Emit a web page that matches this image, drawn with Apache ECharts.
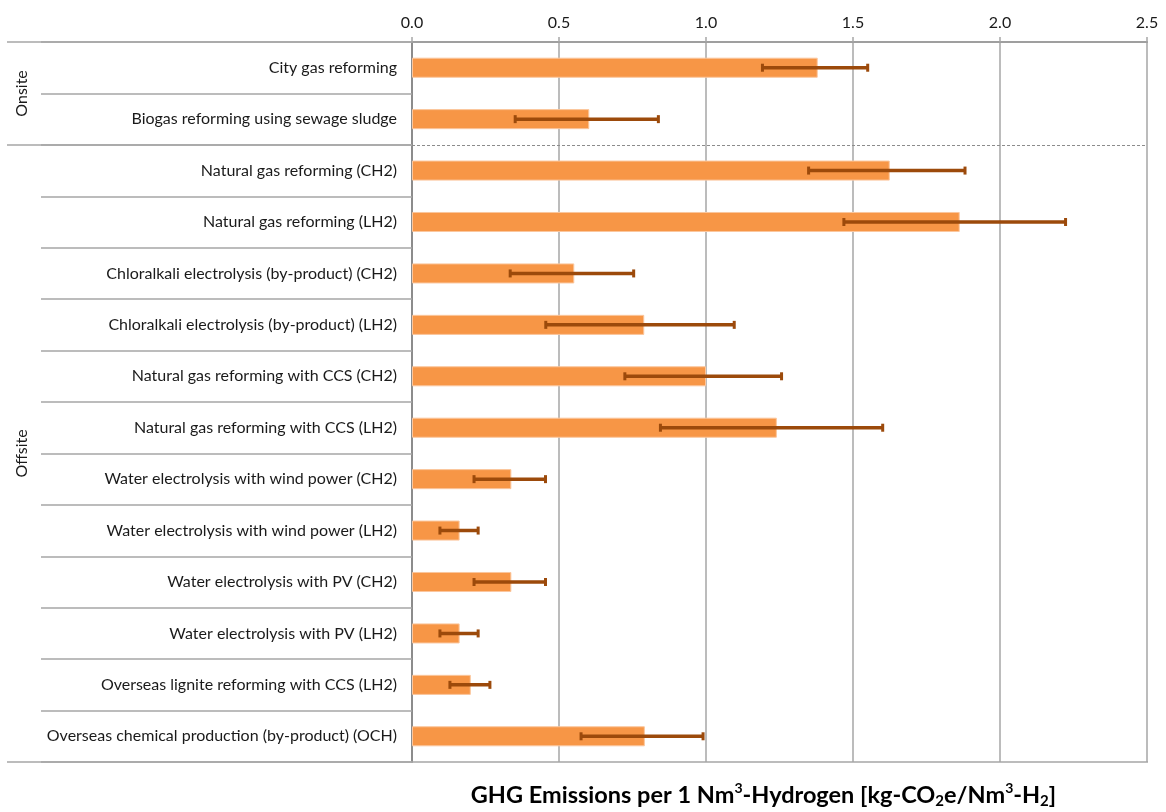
<!DOCTYPE html>
<html>
<head>
<meta charset="utf-8">
<script src="https://cdn.jsdelivr.net/npm/echarts@6/dist/echarts.min.js"></script>
<style>
html,body{margin:0;padding:0;background:#fff;}
#chart{width:1166px;height:812px;}
</style>
</head>
<body>
<div id="chart"></div>
<script>
const categories = [
  "City gas reforming",
  "Biogas reforming using sewage sludge",
  "Natural gas reforming (CH2)",
  "Natural gas reforming (LH2)",
  "Chloralkali electrolysis (by-product) (CH2)",
  "Chloralkali electrolysis (by-product) (LH2)",
  "Natural gas reforming with CCS (CH2)",
  "Natural gas reforming with CCS (LH2)",
  "Water electrolysis with wind power (CH2)",
  "Water electrolysis with wind power (LH2)",
  "Water electrolysis with PV (CH2)",
  "Water electrolysis with PV (LH2)",
  "Overseas lignite reforming with CCS (LH2)",
  "Overseas chemical production (by-product) (OCH)"
];
const values = [1.38, 0.603, 1.625, 1.863, 0.552, 0.79, 1.0, 1.241, 0.338, 0.162, 0.338, 0.162, 0.2, 0.792];
const errLow = [1.192, 0.351, 1.349, 1.469, 0.334, 0.455, 0.724, 0.845, 0.211, 0.095, 0.211, 0.095, 0.129, 0.575];
const errHigh = [1.55, 0.838, 1.881, 2.223, 0.754, 1.096, 1.257, 1.601, 0.454, 0.225, 0.454, 0.225, 0.265, 0.99];
const xTicks = [0, 0.5, 1.0, 1.5, 2.0, 2.5];
const groups = [
  {name: "Onsite", first: 0, last: 1},
  {name: "Offsite", first: 2, last: 13}
];

const FONT = "Lato";
const chart = echarts.init(document.getElementById('chart'));
const errData = categories.map((c, i) => [i, errLow[i], errHigh[i]]);

chart.setOption({
  animation: false,
  textStyle: {fontFamily: FONT},
  grid: {left: 412, right: 19, top: 42, bottom: 50, containLabel: false},
  xAxis: {
    type: 'value', position: 'top',
    min: xTicks[0], max: xTicks[xTicks.length - 1], interval: 0.5,
    axisLabel: {formatter: v => v.toFixed(1), color: '#1a1a1a', fontSize: 16, fontFamily: FONT, margin: 11},
    axisLine: {show: true, lineStyle: {color: '#8c8c8c', width: 2}},
    axisTick: {show: true, length: 5, lineStyle: {color: '#a6a6a6', width: 1.5}},
    splitLine: {show: true, lineStyle: {color: '#a6a6a6', width: 1.5}}
  },
  yAxis: {
    type: 'category', inverse: true, data: categories,
    axisLabel: {color: '#1a1a1a', fontSize: 16, fontFamily: FONT, margin: 15},
    axisLine: {show: true, lineStyle: {color: '#8c8c8c', width: 2}},
    axisTick: {show: true, length: 371, lineStyle: {color: '#a6a6a6', width: 1.5}},
    splitLine: {show: false}
  },
  series: [
    {
      type: 'bar', data: values, barWidth: '39%',
      itemStyle: {color: '#F79646', borderColor: '#FBC79E', borderWidth: 1},
      z: 2
    },
    {
      type: 'custom', data: errData, z: 5,
      renderItem: function (params, api) {
        const idx = api.value(0);
        const p1 = api.coord([api.value(1), idx]);
        const p2 = api.coord([api.value(2), idx]);
        const h = 8;
        const st = {stroke: '#9C4A0B', lineWidth: 3.5};
        const cap = {stroke: '#9C4A0B', lineWidth: 3};
        return {
          type: 'group',
          children: [
            {type: 'line', shape: {x1: p1[0], y1: p1[1], x2: p2[0], y2: p2[1]}, style: st},
            {type: 'line', shape: {x1: p1[0], y1: p1[1] - h / 2, x2: p1[0], y2: p1[1] + h / 2}, style: cap},
            {type: 'line', shape: {x1: p2[0], y1: p2[1] - h / 2, x2: p2[0], y2: p2[1] + h / 2}, style: cap}
          ]
        };
      }
    }
  ]
});

function yBoundary(i) {
  const a = chart.convertToPixel({yAxisIndex: 0}, 0);
  const b = chart.convertToPixel({yAxisIndex: 0}, 1);
  const band = b - a;
  return a - band / 2 + i * band;
}
const xLeft = 7;
const x0 = chart.convertToPixel({xAxisIndex: 0}, 0);
const xEnd = chart.convertToPixel({xAxisIndex: 0}, xTicks[xTicks.length - 1]);
const graphics = [];
const lineStyle = {stroke: '#a6a6a6', lineWidth: 1.5};
[0, categories.length].forEach(i => {
  const y = Math.round(yBoundary(i));
  graphics.push({type: 'line', shape: {x1: xLeft, y1: y, x2: xEnd + 1, y2: y}, style: lineStyle, z: 1});
});
groups.slice(1).forEach(g => {
  const y = Math.round(yBoundary(g.first));
  graphics.push({type: 'line', shape: {x1: xLeft, y1: y, x2: x0, y2: y}, style: lineStyle, z: 1});
  graphics.push({type: 'line', shape: {x1: x0, y1: y + 0.5, x2: xEnd, y2: y + 0.5}, style: {stroke: '#8c8c8c', lineWidth: 1, lineDash: [3, 2]}, z: 1});
});
groups.forEach(g => {
  const yc = (yBoundary(g.first) + yBoundary(g.last + 1)) / 2;
  graphics.push({
    type: 'text', x: 22, y: yc, rotation: Math.PI / 2,
    style: {text: g.name, fontFamily: FONT, fontSize: 16, fill: '#1a1a1a', align: 'center', verticalAlign: 'middle'}
  });
});
const titleRich = "{a|GHG Emissions per 1 Nm}{p|3}{a|-Hydrogen [kg-CO}{s|2}{a|e/Nm}{p|3}{a|-H}{s|2}{a|]}";
graphics.push({
  type: 'text', x: (x0 + xEnd) / 2 - 16, y: 795,
  style: {
    text: titleRich, align: 'center', verticalAlign: 'middle',
    rich: {
      a: {fontFamily: FONT, fontSize: 23.5, fontWeight: 'bold', fill: '#000', lineHeight: 28, verticalAlign: 'middle'},
      s: {fontFamily: FONT, fontSize: 15, fontWeight: 'bold', fill: '#000', lineHeight: 15, verticalAlign: 'bottom'},
      p: {fontFamily: FONT, fontSize: 14, fontWeight: 'bold', fill: '#000', lineHeight: 17, verticalAlign: 'top'}
    }
  }
});
chart.setOption({graphic: graphics});
</script>
</body>
</html>
